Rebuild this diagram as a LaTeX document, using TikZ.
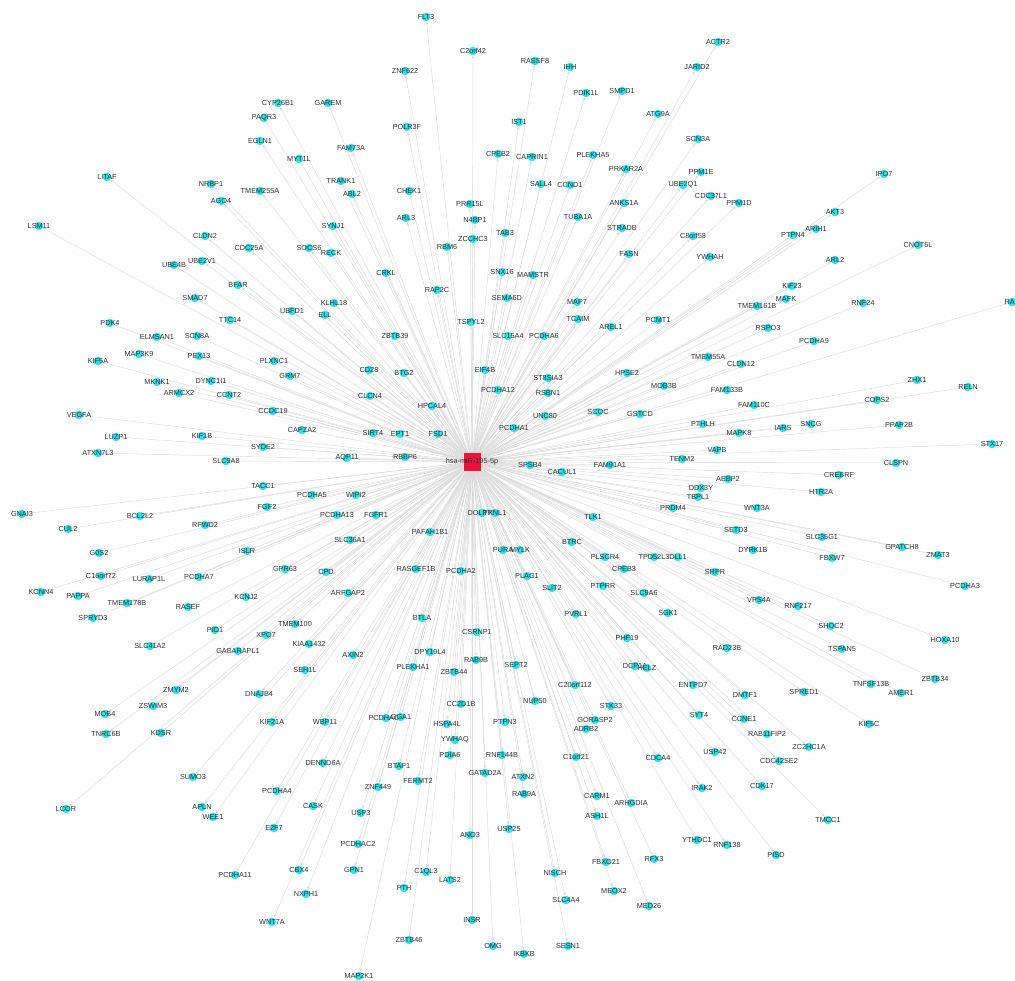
\documentclass[tikz,border=0pt]{standalone}
\usepackage{fontspec}
\setmainfont{Liberation Sans}
\usetikzlibrary{arrows.meta,backgrounds}
\definecolor{genecyan}{RGB}{40,228,236}
\definecolor{hubred}{RGB}{238,18,58}
\definecolor{linkgray}{RGB}{218,218,218}
\definecolor{labelgray}{RGB}{45,45,45}
\newcommand\genelist{FLT3/426/17, C2orf42/473/51, RASSF8/535/61, IHH/570/67, ACTR2/718/42, JARID2/697/67, ZNF622/405/71, PDIK1L/586/93, SMPD1/622/91, CYP26B1/278/103, GAREM/328/103, ATG9A/658/114, PAQR3/264/118, IST1/519/122, POLR3F/407/127, SCN3A/698/139, EGLN1/260/141, FAM73A/351/148, CPEB2/498/154, PLEKHA5/593/155, CAPRIN1/532/157, MYT1L/299/159, PRKAR2A/626/169, PPM1E/701/172, IPO7/884/174, LITAF/107/177, TRANK1/341/181, NRBP1/211/184, SALL4/541/184, CCND1/570/185, UBE2Q1/683/185, TMEM255A/260/191, CHEK1/409/191, ABL2/352/194, CDC37L1/711/196, AGO4/221/201, PPM1D/739/203, ANKS1A/624/203, PRR15L/470/204, AKT3/835/212, TUBA1A/578/217, ARL3/406/218, N4BP1/475/220, LSM11/39/226, SYNJ1/333/226, STRADB/622/228, ARIH1/816/229, TAB3/505/233, PTPN4/793/235, CLDN2/205/236, C8orf58/693/236, ZCCHC3/473/239, CNOT6L/918/245, RBM6/447/247, CDC25A/249/248, SOCS6/309/248, RECK/331/253, FASN/629/254, YWHAH/710/257, ARL2/835/260, UBE2V1/202/261, UBE4B/174/265, SNX16/502/272, CRKL/386/273, MAMSTR/533/275, BFAR/238/285, KIF23/792/286, RAP2C/437/290, SMAD7/195/298, SEMA6D/507/298, MAFK/786/299, MAP7/577/302, RNF24/863/303, RAP/1012/302, KLHL18/334/303, TMEM161B/757/306, UBFD1/292/311, ELL/325/315, TCAIM/578/319, TTC14/230/320, PCMT1/658/320, TSPYL2/471/322, PDK4/110/323, AREL1/611/327, RSPO3/768/328, SLC15A4/508/336, PCDHA6/544/336, ZBTB39/395/336, ELMSAN1/157/337, SCN8A/197/336, PCDHA9/814/341, MAP3K9/139/354, PEX13/199/356, TMEM55A/708/357, KIF5A/98/361, PLXNC1/274/361, CLDN12/741/364, CD28/369/370, EIF4B/485/370, BTG2/404/373, HPSE2/627/373, GRM7/290/376, ST8SIA3/548/378, ZHX1/917/380, DYNC1I1/211/381, MKNK1/157/382, MOB3B/664/386, RELN/968/387, PCDHA12/498/390, FAM133B/727/390, ARMCX2/179/393, RSBN1/548/393, CCNT2/229/395, CLCN4/370/396, COPS2/877/400, FAM110C/754/405, HPCAL4/432/406, CCDC19/273/411, SCOC/598/412, GSTCD/640/414, VEGFA/79/415, UNC80/545/416, PTHLH/703/424, SNCG/811/424, PPAP2B/899/425, PCDHA1/514/428, IARS/783/428, CAPZA2/302/430, SIRT4/373/433, MAPK8/739/433, EPT1/400/434, FSD1/438/434, KIF1B/202/436, LUZP1/116/437, STX17/992/444, SYDE2/263/447, VAPB/717/450, ATXN7L3/98/453, RBBP6/405/457, AQP11/347/458, TENM2/682/459, SLC9A8/226/461, CLSPN/896/463, SPSB4/530/465, FAM91A1/610/465, CACUL1/562/472, CREBRF/839/475, AEBP2/728/479, TACC1/263/486, DDX3Y/701/488, HTR2A/821/492, PCDHA5/312/495, WIPI2/356/495, TBPL1/698/497, FGF2/267/507, PRDM4/673/508, WNT3A/757/508, DOLPP1/482/513, TXNL1/495/513, GNAI3/22/514, PCDHA13/337/515, FGFR1/376/515, BCL2L2/140/516, TLK1/593/517, RFWD2/205/525, CUL2/68/529, SETD3/736/530, PAFAH1B1/430/532, SLC35G1/822/537, SLC36A1/350/540, BTRC/572/542, GPATCH8/902/547, PURA/503/550, MYLK/520/550, DYRK1B/753/550, ISLR/247/551, G0S2/99/553, ZMAT3/938/555, PLSCR4/605/557, TPD52L3/654/557, DLL1/678/557, FBXW7/832/558, GPR63/285/569, RASGEF1B/416/569, CPEB3/624/569, PCDHA2/461/571, CPD/326/572, SRPR/715/572, C16orf72/101/576, PLAG1/527/576, PCDHA7/199/577, LURAP1L/149/579, PCDHA3/965/586, PTPRR/603/586, SLIT2/552/588, KCNN4/41/592, ARFGAP2/348/593, SLC9A6/644/593, PAPPA/78/596, KCNJ2/246/597, VPS4A/759/600, TMEM178B/127/603, RNF217/798/606, RASEF/188/607, SGK1/668/613, PVRL1/576/614, BTLA/422/618, SPRYD3/93/618, TMEM100/295/624, SHOC2/831/626, PID1/215/630, CSRNP1/477/632, XPO7/266/635, PHF19/627/638, HOXA10/945/640, KIAA1432/309/644, SLC41A2/150/646, RAD23B/727/648, TSPAN5/842/649, GABARAPL1/238/651, DPY19L4/430/652, AXIN2/353/655, RAB9B/476/660, SEPT2/516/665, DCP1A/635/666, HELZ/647/668, PLEKHA1/413/667, SEH1L/305/670, ZBTB44/454/672, ZBTB34/935/679, C20orf112/575/685, ENTPD7/693/685, TNFSF13B/871/684, ZMYM2/176/690, SPRED1/804/692, AMER1/901/693, DNAJB4/259/694, DMTF1/745/695, NUP50/535/701, CC2D1B/461/704, STK33/611/706, ZSWIM3/153/706, MOB4/105/714, SYT4/699/715, PCDHAC1/386/718, GGA1/401/717, CCNE1/744/719, GORASP2/595/720, KIF21A/272/722, WBP11/325/722, PTPN3/505/722, HSPA4L/447/724, KIF5C/869/724, ADRB2/586/729, KDSR/161/733, TNRC6B/106/734, RAB11FIP2/767/734, YWHAQ/455/740, ZC2HC1A/809/747, USP42/715/752, PDIA6/450/755, RNF144B/502/755, C1orf21/576/757, CDCA4/658/758, CDC42SE2/779/761, DENND6A/323/763, BTAF1/399/766, GATAD2A/485/773, SUMO3/193/777, ATXN2/523/777, FERMT2/418/781, CDK17/762/786, ZNF449/378/787, IRAK2/702/788, PCDHA4/277/791, RAB9A/524/794, CARM1/597/796, ARHGDIA/631/803, CASK/313/806, APLN/202/807, LCOR/66/809, USP3/361/813, ASH1L/597/816, WEE1/213/817, TMCC1/828/820, E2F7/274/828, USP25/509/829, ANO3/470/835, YTHDC1/697/840, PCDHAC2/358/844, RNF138/727/845, PISD/776/855, RFX3/654/859, FBXO21/606/862, CBX4/299/870, GPN1/354/870, C1QL3/426/872, NISCH/555/873, PCDHA11/235/875, LATS2/450/880, PTH/404/888, MEOX2/614/891, NXPH1/306/894, SLC4A4/566/900, MED26/649/906, INSR/472/920, WNT7A/272/922, ZBTB46/409/940, OMG/493/946, SESN1/568/946, IKBKB/524/954, MAP2K1/359/976}
\begin{document}
\begin{tikzpicture}[x=1pt, y=-1pt,
  gene/.style={circle, fill=genecyan, inner sep=0pt, minimum size=8.5pt},
  genetext/.style={text=labelgray, inner sep=0pt, font=\fontsize{7.3}{8}\selectfont},
  hubnode/.style={rectangle, fill=hubred, inner sep=0pt, minimum size=17pt},
  link/.style={draw=linkgray, line width=0.45pt, -{Stealth[length=3.5pt,width=3pt]}}]
  \clip (0,0) rectangle (1015,981);
  \node[hubnode, label={[genetext]center:hsa-miR-195-5p}] (hub) at (472,462) {};
  \foreach \g/\x/\y in \genelist
    \node[gene, label={[genetext]center:\g}] (\g) at (\x,\y) {};
  \begin{pgfonlayer}{background}
    \foreach \g/\x/\y in \genelist
      \draw[link] (hub) -- (\g);
  \end{pgfonlayer}
\end{tikzpicture}
\end{document}
